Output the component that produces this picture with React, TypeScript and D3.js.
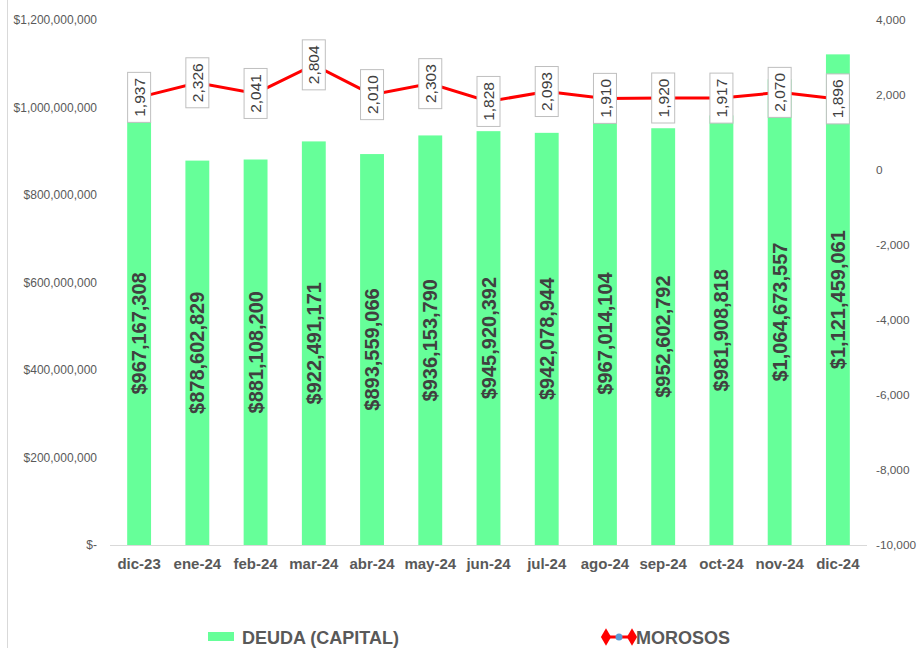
import React, { useEffect, useRef } from 'react';
import * as d3 from 'd3';

const months = ['dic-23', 'ene-24', 'feb-24', 'mar-24', 'abr-24', 'may-24', 'jun-24', 'jul-24', 'ago-24', 'sep-24', 'oct-24', 'nov-24', 'dic-24'];
const deuda = [967167308, 878602829, 881108200, 922491171, 893559066, 936153790, 945920392, 942078944, 967014104, 952602792, 981908818, 1064673557, 1121459061];
const morosos = [1937, 2326, 2041, 2804, 2010, 2303, 1828, 2093, 1910, 1920, 1917, 2070, 1896];
const leftTicks = [0, 200000000, 400000000, 600000000, 800000000, 1000000000, 1200000000];
const rightTicks = [-10000, -8000, -6000, -4000, -2000, 0, 2000, 4000];

const W = 919;
const H = 648;
const FONT = 'Liberation Sans, Arial, sans-serif';

const App = () => {
  const ref = useRef<SVGSVGElement>(null);

  useEffect(() => {
    const svg = d3.select(ref.current);
    svg.selectAll('*').remove();

    const top = 20;
    const bottom = 545;
    const left = 110;
    const right = 867;

    const x = d3.scaleBand().domain(months).range([left, right]).paddingInner(0.59).paddingOuter(0.295);
    const yL = d3.scaleLinear().domain([0, 1200000000]).range([bottom, top]);
    const yR = d3.scaleLinear().domain([-10000, 4000]).range([bottom, top]);

    // chart border on the left
    svg.append('line').attr('x1', 7.5).attr('x2', 7.5).attr('y1', 0).attr('y2', H)
      .attr('stroke', '#d9d9d9').attr('stroke-width', 1);

    // left axis
    const money = (v: number) => (v === 0 ? '$-' : '$' + d3.format(',')(v));
    svg.append('g').selectAll('text').data(leftTicks).enter().append('text')
      .attr('x', 97).attr('y', (d) => yL(d)).attr('dy', '0.35em')
      .attr('text-anchor', 'end').attr('font-family', FONT).attr('font-size', 12)
      .attr('fill', '#595959').text(money);

    // right axis
    svg.append('g').selectAll('text').data(rightTicks).enter().append('text')
      .attr('x', 876).attr('y', (d) => yR(d)).attr('dy', '0.35em')
      .attr('text-anchor', 'start').attr('font-family', FONT).attr('font-size', 11.8)
      .attr('fill', '#595959').text((d) => d3.format(',')(d).replace('−', '-'));

    // bars
    svg.append('g').selectAll('rect').data(deuda).enter().append('rect')
      .attr('x', (_, i) => x(months[i])!)
      .attr('width', x.bandwidth())
      .attr('y', (d) => yL(d))
      .attr('height', (d) => bottom - yL(d))
      .attr('fill', '#66ff99');

    // baseline
    svg.append('line').attr('x1', left).attr('x2', right).attr('y1', bottom + 0.5).attr('y2', bottom + 0.5)
      .attr('stroke', '#d9d9d9').attr('stroke-width', 1);

    // category labels
    svg.append('g').selectAll('text').data(months).enter().append('text')
      .attr('x', (d) => x(d)! + x.bandwidth() / 2).attr('y', 569)
      .attr('text-anchor', 'middle').attr('font-family', FONT).attr('font-size', 15)
      .attr('font-weight', 'bold').attr('fill', '#595959').text((d) => d);

    // bar labels
    svg.append('g').selectAll('text').data(deuda).enter().append('text')
      .attr('transform', (d, i) => {
        const cx = x(months[i])! + x.bandwidth() / 2;
        const cy = (yL(d) + bottom) / 2;
        return `translate(${cx},${cy}) rotate(-90)`;
      })
      .attr('text-anchor', 'middle').attr('dy', '0.35em')
      .attr('font-family', FONT).attr('font-size', 20).attr('font-weight', 'bold')
      .attr('fill', '#404040').text((d) => '$' + d3.format(',')(d));

    // morosos line
    const line = d3.line<number>()
      .x((_, i) => x(months[i])! + x.bandwidth() / 2)
      .y((d) => yR(d));
    svg.append('path').datum(morosos).attr('d', line)
      .attr('fill', 'none').attr('stroke', '#ff0000').attr('stroke-width', 3);

    // morosos labels
    const lbl = svg.append('g').selectAll('g').data(morosos).enter().append('g')
      .attr('transform', (d, i) => `translate(${x(months[i])! + x.bandwidth() / 2},${yR(d)})`);
    lbl.append('rect').attr('x', -11.5).attr('y', -25).attr('width', 23).attr('height', 50)
      .attr('fill', '#ffffff').attr('stroke', '#bfbfbf').attr('stroke-width', 1);
    lbl.append('text').attr('transform', 'rotate(-90)').attr('text-anchor', 'middle').attr('dy', '0.36em')
      .attr('font-family', FONT).attr('font-size', 15.5).attr('fill', '#404040')
      .text((d) => d3.format(',')(d));

    // legend
    const leg = svg.append('g');
    leg.append('rect').attr('x', 208).attr('y', 632).attr('width', 26).attr('height', 9).attr('fill', '#66ff99');
    leg.append('text').attr('x', 242).attr('y', 643.5).attr('font-family', FONT).attr('font-size', 18)
      .attr('font-weight', 'bold').attr('fill', '#595959').text('DEUDA (CAPITAL)');
    leg.append('line').attr('x1', 606).attr('x2', 632).attr('y1', 637).attr('y2', 637)
      .attr('stroke', '#ff0000').attr('stroke-width', 3);
    const diamond = d3.symbol().type(d3.symbolDiamond).size(90);
    [606, 632].forEach((cx) => {
      leg.append('path').attr('d', diamond()!).attr('transform', `translate(${cx},637)`).attr('fill', '#ff0000');
    });
    leg.append('circle').attr('cx', 619).attr('cy', 637).attr('r', 3.5).attr('fill', '#5b9bd5');
    leg.append('text').attr('x', 636).attr('y', 643.5).attr('font-family', FONT).attr('font-size', 18)
      .attr('font-weight', 'bold').attr('fill', '#595959').text('MOROSOS');
  }, []);

  return (
    <svg ref={ref} width={W} height={H}
      style={{ position: 'absolute', left: 0, top: 0, background: '#ffffff' }} />
  );
};

export default App;
